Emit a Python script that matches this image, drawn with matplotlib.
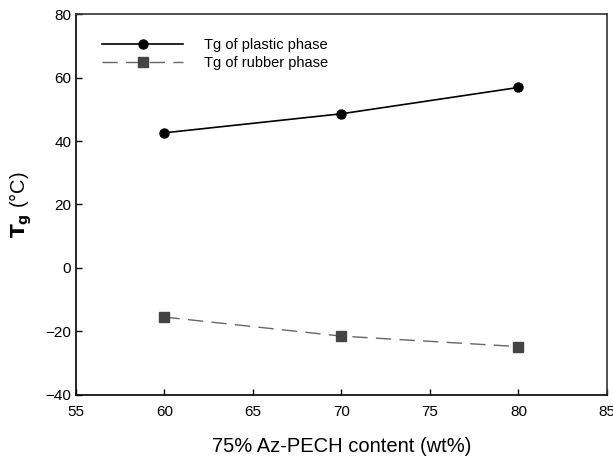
import matplotlib.pyplot as plt

plt.rcParams["font.family"] = ["Liberation Sans", "DejaVu Sans"]

content = [60, 70, 80]
tg_plastic = [42.6, 48.6, 56.9]
tg_rubber = [-15.5, -21.5, -24.8]
xticks = [55, 60, 65, 70, 75, 80, 85]
yticks = [-40, -20, 0, 20, 40, 60, 80]

fig = plt.figure(figsize=(6.13, 4.58), dpi=100)
ax = fig.add_axes([0.124, 0.138, 0.866, 0.831])

ax.plot(content, tg_plastic, color="black", linewidth=1.2, marker="o",
        markersize=6.5, label="Tg of plastic phase")
ax.plot(content, tg_rubber, color="#666666", linewidth=1.0, linestyle=(0, (11, 6)),
        marker="s", markersize=6.5, markerfacecolor="#444444",
        markeredgecolor="#444444", label="Tg of rubber phase")

ax.set_xlim(55, 85)
ax.set_ylim(-40, 80)
ax.set_xticks(xticks)
ax.set_yticks(yticks)
ax.tick_params(direction="in", length=4, labelsize=11, width=1)
ax.tick_params(axis="x", pad=7)
for side in ["left", "bottom"]:
    ax.spines[side].set_linewidth(1.2)
for side in ["top", "right"]:
    ax.spines[side].set_linewidth(1.2)
    ax.spines[side].set_color("#333333")

ax.set_xlabel("75% Az-PECH content (wt%)", fontsize=14.5, labelpad=13)
ax.set_ylabel(r"$\mathbf{T_g}$ (°C)", fontsize=14.5, labelpad=8)

ax.legend(loc="upper left", bbox_to_anchor=(0.025, 0.972), frameon=False,
          fontsize=10.5, handlelength=5.5, handletextpad=1.5, labelspacing=0.3)

fig.savefig("out.png", dpi=100)
